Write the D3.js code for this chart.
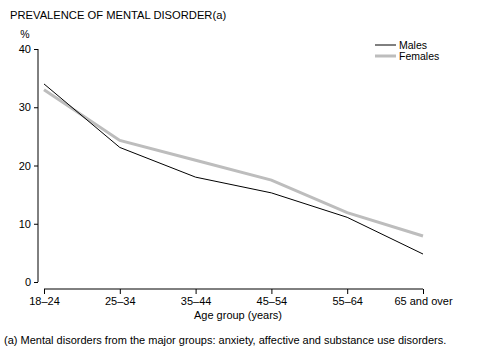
<!DOCTYPE html>
<html>
<head>
<meta charset="utf-8">
<script src="https://cdn.jsdelivr.net/npm/d3@7"></script>
<style>
body { margin: 0; background: #fff; }
text { font-family: "Liberation Sans", Arial, sans-serif; fill: #000; }
</style>
</head>
<body>
<svg id="chart" width="479" height="363"></svg>
<script>
// values
var ageGroups = ["18–24", "25–34", "35–44", "45–54", "55–64", "65 and over"];
var males = [34.0, 23.1, 18.0, 15.3, 11.1, 4.8];
var females = [33.0, 24.3, 20.9, 17.5, 11.9, 7.9];
var yTicks = [0, 10, 20, 30, 40];

var svg = d3.select("#chart");

var x = d3.scalePoint().domain(ageGroups).range([44, 423]);
var y = d3.scaleLinear().domain([0, 40]).range([282, 49]);

// title
svg.append("text").attr("x", 10).attr("y", 19)
  .style("font-size", "11.2px").text("PREVALENCE OF MENTAL DISORDER(a)");

svg.append("text").attr("x", 25).attr("y", 38)
  .style("font-size", "10.5px").attr("text-anchor", "middle").text("%");

// y axis
var yAxis = svg.append("g").attr("transform", "translate(38,0)")
  .call(d3.axisLeft(y).tickValues(yTicks).tickSize(4).tickPadding(3));
yAxis.selectAll("text").style("font-size", "11px");
yAxis.select(".domain").attr("d", "M0," + y(40) + "V" + y(0));

// x axis
var xAxis = svg.append("g").attr("transform", "translate(0,289)")
  .call(d3.axisBottom(x).tickSize(5).tickPadding(3));
xAxis.selectAll("text").style("font-size", "11px");
xAxis.select(".domain").attr("d", "M" + x(ageGroups[0]) + ",0H" + x(ageGroups[5]));

svg.append("text").attr("x", 238).attr("y", 319).attr("text-anchor", "middle")
  .style("font-size", "11px").text("Age group (years)");

var line = d3.line()
  .x(function(d, i) { return x(ageGroups[i]); })
  .y(function(d) { return y(d); });

svg.append("path").datum(females)
  .attr("d", line).attr("fill", "none")
  .attr("stroke", "#bdbdbd").attr("stroke-width", 3);

svg.append("path").datum(males)
  .attr("d", line).attr("fill", "none")
  .attr("stroke", "#000").attr("stroke-width", 1);

// legend
var legend = [
  { name: "Males", color: "#000", w: 1, y: 45 },
  { name: "Females", color: "#bdbdbd", w: 3, y: 56 }
];
legend.forEach(function(l) {
  svg.append("line").attr("x1", 375).attr("x2", 396)
    .attr("y1", l.y).attr("y2", l.y)
    .attr("stroke", l.color).attr("stroke-width", l.w);
  svg.append("text").attr("x", 399).attr("y", l.y + 4)
    .style("font-size", "10.5px").text(l.name);
});

svg.append("text").attr("x", 4).attr("y", 344)
  .style("font-size", "11px")
  .text("(a) Mental disorders from the major groups: anxiety, affective and substance use disorders.");
</script>
</body>
</html>
